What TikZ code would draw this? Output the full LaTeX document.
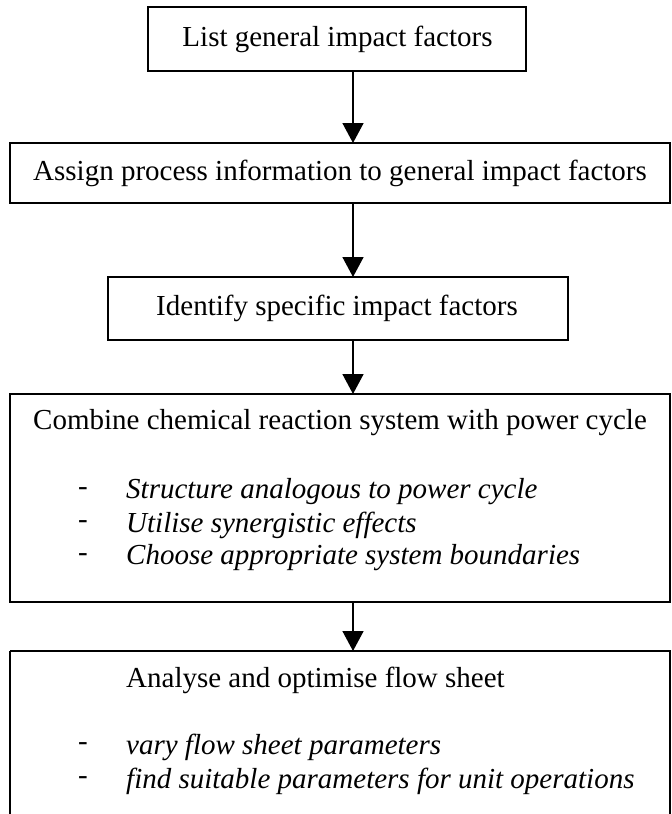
\documentclass[tikz,border=0pt]{standalone}
\usepackage{fontspec}
\setmainfont{Liberation Serif}
\usetikzlibrary{arrows.meta}
\begin{document}
\begin{tikzpicture}[x=1pt,y=-1pt,
  boxline/.style={line width=1.6pt},
  flow/.style={line width=1.6pt,-{Triangle[length=20pt,width=21pt]}},
  txt/.style={inner sep=0pt,anchor=west,font=\fontsize{29}{33}\selectfont},
  itx/.style={txt,font=\fontsize{29}{33}\selectfont\itshape}]
\useasboundingbox (0,0) rectangle (672,814);
% boxes
\draw[boxline] (148,7) rectangle (526,71);
\node[txt,anchor=center] (t1) at (337.5,39) {List general impact factors};
\coordinate (b1s) at (353,71);
\coordinate (b2n) at (353,143);
\draw[boxline] (10,143) rectangle (670,203);
\node[txt] (t2) at (33,173) {Assign process information to general impact factors};
\coordinate (b2s) at (353,203);
\coordinate (b3n) at (353,277);
\draw[boxline] (108,277) rectangle (568,340);
\node[txt,anchor=center] (t3) at (337,308) {Identify specific impact factors};
\coordinate (b3s) at (353,340);
\coordinate (b4n) at (353,394);
\draw[boxline] (10,394) rectangle (670,602);
\node[txt] (t4) at (33,423) {Combine chemical reaction system with power cycle};
\node[txt] (d41) at (78,492) {-};
\node[itx] (i41) at (126,492) {Structure analogous to power cycle};
\node[txt] (d42) at (78,525) {-};
\node[itx] (i42) at (126,525) {Utilise synergistic effects};
\node[txt] (d43) at (78,558) {-};
\node[itx] (i43) at (126,558) {Choose appropriate system boundaries};
\coordinate (b4s) at (353,602);
\coordinate (b5n) at (353,651);
\draw[boxline] (10,651) -- (10,830) (10,651) -- (670,651) -- (670,830);
\node[txt] (t5) at (126,680) {Analyse and optimise flow sheet};
\node[txt] (d51) at (78,747) {-};
\node[itx] (i51) at (126,747) {vary flow sheet parameters};
\node[txt] (d52) at (78,781) {-};
\node[itx] (i52) at (126,781) {find suitable parameters for unit operations};
% arrows
\draw[flow] (b1s) -- (b2n);
\draw[flow] (b2s) -- (b3n);
\draw[flow] (b3s) -- (b4n);
\draw[flow] (b4s) -- (b5n);
\end{tikzpicture}
\end{document}
